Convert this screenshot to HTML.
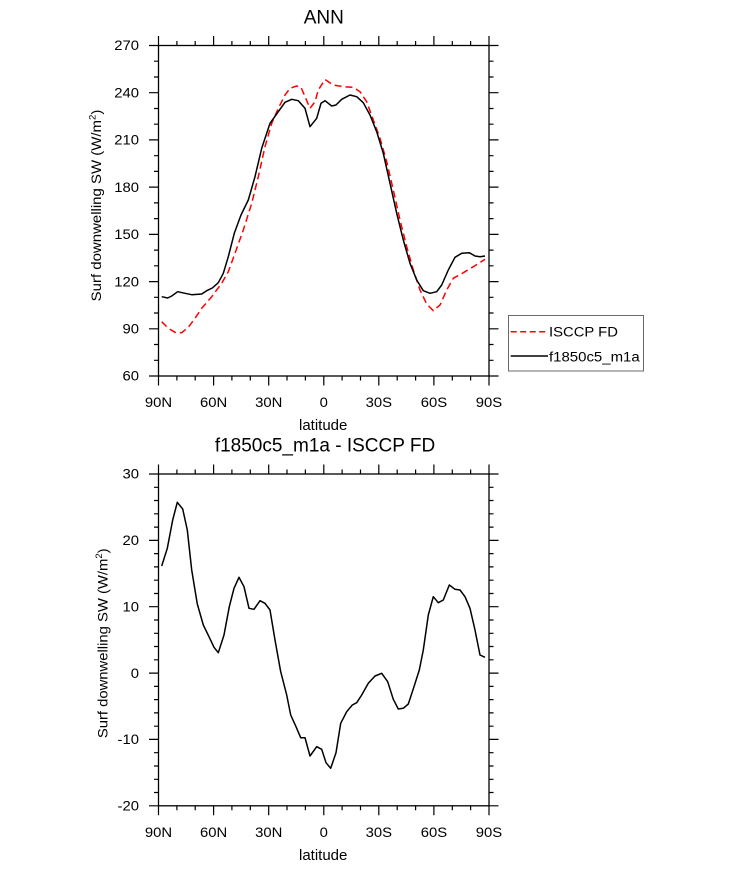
<!DOCTYPE html>
<html>
<head>
<meta charset="utf-8">
<style>
  html, body { margin: 0; padding: 0; background: #fff; }
  svg { display: block; }
  text { font-family: "Liberation Sans", Arial, Helvetica, sans-serif; fill: #000; }
</style>
</head>
<body>
<svg width="733" height="869" viewBox="0 0 733 869" xmlns="http://www.w3.org/2000/svg">
  <rect x="0" y="0" width="733" height="869" fill="#fff"/>

  <!-- ================= TOP PLOT ================= -->
  <text x="323.8" y="23.3" font-size="19" text-anchor="middle">ANN</text>

  <!-- curves -->
  <polyline fill="none" stroke="#ff0000" stroke-width="1.5" stroke-dasharray="7,4" stroke-linejoin="round"
    points="161.7,321.7 168.3,328.3 175,332.3 181.7,332.7 188.3,327.3 195,318.3 201.7,308.3 211.7,296.7 221.7,283.3 228.3,271.7 235,253.3 243.3,230 251.7,203.3 258.3,176.7 265,146.7 271.7,123.3 278.3,108.3 285,95 290,88.3 296.7,86 301,87.3 310,108.3 315,101.7 318.3,90 325,79.5 333.3,85 343.3,86.7 353.3,87.3 360,91.7 366.7,101.7 373.3,120 380,138.3 386.7,161.7 393.3,190 400,220 406.7,246.7 413.3,270 420,290 426.7,304 433.3,310.7 440,305 446.7,290 453.3,278.3 463.3,272.7 473.3,266.7 485,259.3"/>
  <polyline fill="none" stroke="#000" stroke-width="1.5" stroke-linejoin="round"
    points="161.7,296.7 167.7,298 171.7,296 177.7,291.7 185,293.3 191.7,294.7 201.7,294 206.7,290.7 212.3,288 218.3,282.7 223.3,273.3 228.3,256.7 234.3,233.3 241,215 248.3,200 255,176.7 261.7,148.3 270,123.3 278.3,111.7 285,102.3 291.7,99.3 298.3,100.7 305,108.3 310,126.7 316.7,118.3 321,103.3 325,100.7 331.7,106 336,105 341.7,99.3 350,95 356.7,96.7 363.3,102.7 370,115 376.7,131.7 383.3,153.3 390,183.3 396.7,213.3 403.3,240 410,263.3 416.7,280 423.3,290.7 430,293.3 436.7,291.7 441.7,285 448.3,270 455,257.3 461.7,253.3 469.3,252.7 475,256 480,256.7 485,256"/>

  <!-- frame -->
  <rect x="158.5" y="45.5" width="330.5" height="330.5" fill="none" stroke="#000" stroke-width="1.3"/>
  <!-- x ticks -->
  <g stroke="#000" stroke-width="1.2" fill="none">
    <path transform="translate(0,376)" d="M158.5 0v9.5M176.9 0v4.5M195.2 0v4.5M213.6 0v9.5M231.9 0v4.5M250.3 0v4.5M268.7 0v9.5M287 0v4.5M305.4 0v4.5M323.8 0v9.5M342.1 0v4.5M360.5 0v4.5M378.8 0v9.5M397.2 0v4.5M415.6 0v4.5M433.9 0v9.5M452.3 0v4.5M470.6 0v4.5M489 0v9.5"/>
    <path transform="translate(0,45.5) scale(1,-1)" d="M158.5 0v9.5M176.9 0v4.5M195.2 0v4.5M213.6 0v9.5M231.9 0v4.5M250.3 0v4.5M268.7 0v9.5M287 0v4.5M305.4 0v4.5M323.8 0v9.5M342.1 0v4.5M360.5 0v4.5M378.8 0v9.5M397.2 0v4.5M415.6 0v4.5M433.9 0v9.5M452.3 0v4.5M470.6 0v4.5M489 0v9.5"/>
    <path transform="translate(158.5,0)" d="M0 376h-9.5M0 360.3h-4.5M0 344.5h-4.5M0 328.8h-9.5M0 313h-4.5M0 297.3h-4.5M0 281.6h-9.5M0 265.8h-4.5M0 250.1h-4.5M0 234.4h-9.5M0 218.6h-4.5M0 202.9h-4.5M0 187.1h-9.5M0 171.4h-4.5M0 155.7h-4.5M0 139.9h-9.5M0 124.2h-4.5M0 108.5h-4.5M0 92.7h-9.5M0 77h-4.5M0 61.2h-4.5M0 45.5h-9.5"/>
    <path transform="translate(489,0) scale(-1,1)" d="M0 376h-9.5M0 360.3h-4.5M0 344.5h-4.5M0 328.8h-9.5M0 313h-4.5M0 297.3h-4.5M0 281.6h-9.5M0 265.8h-4.5M0 250.1h-4.5M0 234.4h-9.5M0 218.6h-4.5M0 202.9h-4.5M0 187.1h-9.5M0 171.4h-4.5M0 155.7h-4.5M0 139.9h-9.5M0 124.2h-4.5M0 108.5h-4.5M0 92.7h-9.5M0 77h-4.5M0 61.2h-4.5M0 45.5h-9.5"/>
  </g>

  <!-- y tick labels -->
  <g font-size="13.5" text-anchor="end">
    <text transform="translate(139,50.2) scale(1.1,1)">270</text>
    <text transform="translate(139,97.4) scale(1.1,1)">240</text>
    <text transform="translate(139,144.6) scale(1.1,1)">210</text>
    <text transform="translate(139,191.8) scale(1.1,1)">180</text>
    <text transform="translate(139,239.1) scale(1.1,1)">150</text>
    <text transform="translate(139,286.3) scale(1.1,1)">120</text>
    <text transform="translate(139,333.5) scale(1.1,1)">90</text>
    <text transform="translate(139,380.7) scale(1.1,1)">60</text>
  </g>
  <!-- x tick labels -->
  <g font-size="13.5" text-anchor="middle">
    <text transform="translate(158.5,407) scale(1.1,1)">90N</text>
    <text transform="translate(213.6,407) scale(1.1,1)">60N</text>
    <text transform="translate(268.7,407) scale(1.1,1)">30N</text>
    <text transform="translate(323.8,407) scale(1.1,1)">0</text>
    <text transform="translate(378.8,407) scale(1.1,1)">30S</text>
    <text transform="translate(433.9,407) scale(1.1,1)">60S</text>
    <text transform="translate(489,407) scale(1.1,1)">90S</text>
  </g>
  <text x="323.2" y="430" font-size="15" text-anchor="middle">latitude</text>
  <text transform="translate(101,205.5) rotate(-90) scale(1.07,1)" font-size="14" text-anchor="middle">Surf downwelling SW (W/m<tspan font-size="9" dy="-5.5">2</tspan><tspan dy="5.5">)</tspan></text>

  <!-- legend -->
  <rect x="508.5" y="315.5" width="135" height="55.5" fill="#fff" stroke="#6a6a6a" stroke-width="1"/>
  <line x1="510.7" y1="331.7" x2="548" y2="331.7" stroke="#ff0000" stroke-width="1.5" stroke-dasharray="6,3.5"/>
  <line x1="510.7" y1="356" x2="548" y2="356" stroke="#000" stroke-width="1.5"/>
  <text transform="translate(549,336.6) scale(1.06,1)" font-size="14">ISCCP FD</text>
  <text transform="translate(549,361.5) scale(1.07,1)" font-size="14">f1850c5_m1a</text>

  <!-- ================= BOTTOM PLOT ================= -->
  <text x="325" y="451.6" font-size="19" text-anchor="middle">f1850c5_m1a - ISCCP FD</text>

  <polyline fill="none" stroke="#000" stroke-width="1.5" stroke-linejoin="round"
    points="161.7,566 167.3,548.3 172.7,520 177.3,502.3 182.7,509 187.3,530 191.7,570 197.3,604 203.3,625 209,636.7 214,647.3 218.3,652.7 224,635 229.3,606.7 234,588.3 239,577.3 244,586.7 249,608.3 254,609.3 260,600.7 265,603.3 270,610 275,640 280.7,671.7 286.7,695 290.7,715 296,726.7 300.7,737.7 305,737.7 310,756 316.7,746.7 321.7,749.3 326,762.7 330.7,768.3 336,752.7 340.7,723.3 346.7,711.7 352.3,705 356.7,702.7 361.7,695 368.3,683.3 375,676 381.7,673.3 387.7,681.7 393.3,699.3 398.3,709 403.3,708.3 408.3,704 414,686.7 419.3,670 423.3,650 428.3,615 433.3,596.7 438.3,602.7 443.3,600 449.3,585 455,589.3 460,590 465,596.7 470,608.3 475,630 480,655 485,657.3"/>

  <rect x="158.5" y="474" width="330.5" height="331.8" fill="none" stroke="#000" stroke-width="1.3"/>
  <g stroke="#000" stroke-width="1.2" fill="none">
    <path transform="translate(0,805.8)" d="M158.5 0v9.5M176.9 0v4.5M195.2 0v4.5M213.6 0v9.5M231.9 0v4.5M250.3 0v4.5M268.7 0v9.5M287 0v4.5M305.4 0v4.5M323.8 0v9.5M342.1 0v4.5M360.5 0v4.5M378.8 0v9.5M397.2 0v4.5M415.6 0v4.5M433.9 0v9.5M452.3 0v4.5M470.6 0v4.5M489 0v9.5"/>
    <path transform="translate(0,474) scale(1,-1)" d="M158.5 0v9.5M176.9 0v4.5M195.2 0v4.5M213.6 0v9.5M231.9 0v4.5M250.3 0v4.5M268.7 0v9.5M287 0v4.5M305.4 0v4.5M323.8 0v9.5M342.1 0v4.5M360.5 0v4.5M378.8 0v9.5M397.2 0v4.5M415.6 0v4.5M433.9 0v9.5M452.3 0v4.5M470.6 0v4.5M489 0v9.5"/>
    <path transform="translate(158.5,0)" d="M0 805.8h-9.5M0 792.5h-4.5M0 779.3h-4.5M0 766h-4.5M0 752.7h-4.5M0 739.4h-9.5M0 726.2h-4.5M0 712.9h-4.5M0 699.6h-4.5M0 686.4h-4.5M0 673.1h-9.5M0 659.8h-4.5M0 646.5h-4.5M0 633.3h-4.5M0 620h-4.5M0 606.7h-9.5M0 593.5h-4.5M0 580.2h-4.5M0 566.9h-4.5M0 553.6h-4.5M0 540.4h-9.5M0 527.1h-4.5M0 513.8h-4.5M0 500.5h-4.5M0 487.3h-4.5M0 474h-9.5"/>
    <path transform="translate(489,0) scale(-1,1)" d="M0 805.8h-9.5M0 792.5h-4.5M0 779.3h-4.5M0 766h-4.5M0 752.7h-4.5M0 739.4h-9.5M0 726.2h-4.5M0 712.9h-4.5M0 699.6h-4.5M0 686.4h-4.5M0 673.1h-9.5M0 659.8h-4.5M0 646.5h-4.5M0 633.3h-4.5M0 620h-4.5M0 606.7h-9.5M0 593.5h-4.5M0 580.2h-4.5M0 566.9h-4.5M0 553.6h-4.5M0 540.4h-9.5M0 527.1h-4.5M0 513.8h-4.5M0 500.5h-4.5M0 487.3h-4.5M0 474h-9.5"/>
  </g>

  <g font-size="13.5" text-anchor="end">
    <text transform="translate(139,478.7) scale(1.1,1)">30</text>
    <text transform="translate(139,545.1) scale(1.1,1)">20</text>
    <text transform="translate(139,611.4) scale(1.1,1)">10</text>
    <text transform="translate(139,677.8) scale(1.1,1)">0</text>
    <text transform="translate(139,744.1) scale(1.1,1)">-10</text>
    <text transform="translate(139,810.5) scale(1.1,1)">-20</text>
  </g>
  <g font-size="13.5" text-anchor="middle">
    <text transform="translate(158.5,837) scale(1.1,1)">90N</text>
    <text transform="translate(213.6,837) scale(1.1,1)">60N</text>
    <text transform="translate(268.7,837) scale(1.1,1)">30N</text>
    <text transform="translate(323.8,837) scale(1.1,1)">0</text>
    <text transform="translate(378.8,837) scale(1.1,1)">30S</text>
    <text transform="translate(433.9,837) scale(1.1,1)">60S</text>
    <text transform="translate(489,837) scale(1.1,1)">90S</text>
  </g>
  <text x="323.2" y="860" font-size="15" text-anchor="middle">latitude</text>
  <text transform="translate(107.5,643.3) rotate(-90) scale(1.06,1)" font-size="14" text-anchor="middle">Surf downwelling SW (W/m<tspan font-size="9" dy="-5.5">2</tspan><tspan dy="5.5">)</tspan></text>
</svg>
</body>
</html>
